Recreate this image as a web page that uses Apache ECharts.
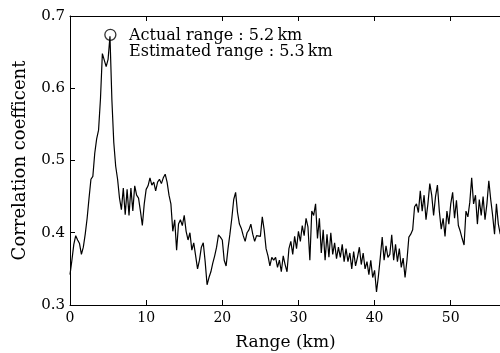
<!DOCTYPE html>
<html>
<head>
<meta charset="utf-8">
<script src="https://cdn.jsdelivr.net/npm/echarts@6/dist/echarts.min.js"></script>
<style>html,body{margin:0;padding:0;background:#fff}#c{width:500px;height:353px}</style>
</head>
<body>
<div id="c"></div>
<script>
// Range sampling (km) and correlation coefficient values
const rangeStep = 0.25;
const correlation = [
0.342,0.362,0.384,0.396,0.390,0.385,0.370,0.380,0.398,0.420,
0.448,0.474,0.478,0.510,0.530,0.542,0.585,0.648,0.650,0.630,
0.640,0.672,0.584,0.525,0.492,0.474,0.448,0.432,0.462,0.425,
0.460,0.424,0.462,0.430,0.465,0.452,0.448,0.430,0.410,0.440,
0.460,0.465,0.476,0.466,0.470,0.458,0.470,0.474,0.468,0.476,
0.481,0.470,0.452,0.440,0.402,0.418,0.376,0.412,0.418,0.410,
0.424,0.402,0.390,0.400,0.376,0.386,0.368,0.350,0.362,0.380,
0.386,0.360,0.328,0.338,0.346,0.358,0.368,0.380,0.397,0.394,
0.390,0.362,0.354,0.378,0.398,0.420,0.446,0.456,0.428,0.412,
0.406,0.396,0.388,0.400,0.404,0.412,0.398,0.388,0.396,0.394,
0.395,0.422,0.404,0.378,0.368,0.354,0.366,0.362,0.366,0.352,
0.362,0.346,0.368,0.356,0.346,0.378,0.388,0.370,0.395,0.378,
0.402,0.388,0.410,0.396,0.420,0.408,0.362,0.430,0.424,0.440,
0.392,0.420,0.372,0.404,0.362,0.398,0.366,0.400,0.370,0.386,
0.364,0.380,0.366,0.384,0.360,0.378,0.360,0.372,0.350,0.374,
0.354,0.366,0.380,0.356,0.372,0.350,0.360,0.342,0.362,0.338,
0.348,0.318,0.340,0.366,0.394,0.362,0.382,0.366,0.370,0.397,
0.362,0.384,0.360,0.378,0.352,0.365,0.338,0.362,0.394,0.398,
0.404,0.436,0.440,0.428,0.458,0.430,0.452,0.418,0.440,0.468,
0.452,0.424,0.450,0.466,0.430,0.405,0.420,0.395,0.430,0.412,
0.440,0.456,0.420,0.445,0.410,0.402,0.392,0.383,0.430,0.422,
0.442,0.476,0.440,0.452,0.412,0.446,0.424,0.450,0.418,0.440,
0.472,0.446,0.424,0.398,0.440,0.412,0.398
];
const peakRange = [5.3];
const peakValue = [0.674];
const xTicks = [0, 10, 20, 30, 40, 50];
const yTicks = [0.3, 0.4, 0.5, 0.6, 0.7];
const annotation = ['Actual range : 5.2\u2009km', 'Estimated range : 5.3\u2009km'];
const xTitle = 'Range (km)';
const yTitle = 'Correlation coefficent';

const lineData = correlation.map((v, i) => [i * rangeStep, v]);
const FONT = '"DejaVu Serif", serif';

const chart = echarts.init(document.getElementById('c'), null, {renderer: 'canvas'});
const axisCommon = {
  axisLine: {show: true, lineStyle: {color: '#000', width: 1}},
  axisTick: {show: true, inside: true, length: 5, lineStyle: {color: '#000', width: 1}},
  splitLine: {show: false}
};
chart.setOption({
  animation: false,
  grid: {left: 70, top: 16, right: -1, bottom: 48, containLabel: false, outerBoundsMode: 'none'},
  xAxis: [
    Object.assign({
      type: 'value', min: xTicks[0], max: 56.6, interval: 10, position: 'bottom',
      name: xTitle, nameLocation: 'middle', nameGap: 29,
      nameTextStyle: {fontFamily: FONT, fontSize: 17, color: '#000'},
      axisLabel: {fontFamily: FONT, fontSize: 14, color: '#000', margin: 6, showMaxLabel: false}
    }, axisCommon),
    Object.assign({
      type: 'value', min: xTicks[0], max: 56.6, interval: 10, position: 'top',
      axisLabel: {show: false}
    }, axisCommon)
  ],
  yAxis: [
    Object.assign({
      type: 'value', min: yTicks[0], max: yTicks[yTicks.length - 1], interval: 0.1,
      name: yTitle, nameLocation: 'middle', nameGap: 41, nameRotate: 90,
      nameTextStyle: {fontFamily: FONT, fontSize: 18, color: '#000'},
      axisLabel: {fontFamily: FONT, fontSize: 15, color: '#000', margin: 5,
        formatter: v => v.toFixed(1)}
    }, axisCommon)
  ],
  series: [
    {
      type: 'line', data: lineData, showSymbol: false, symbol: 'none',
      lineStyle: {color: '#000', width: 1.2}, z: 2
    },
    {
      type: 'scatter', data: peakRange.map((r, i) => [r, peakValue[i]]),
      symbol: 'circle', symbolSize: 11,
      itemStyle: {color: 'rgba(255,255,255,0)', borderColor: '#000', borderWidth: 1.3}, z: 3
    }
  ],
  graphic: [
    {type: 'text', left: 129, top: 28, style: {text: annotation[0], font: '16px ' + FONT, fill: '#000'}},
    {type: 'text', left: 129, top: 44, style: {text: annotation[1], font: '16px ' + FONT, fill: '#000'}}
  ]
});
</script>
</body>
</html>
